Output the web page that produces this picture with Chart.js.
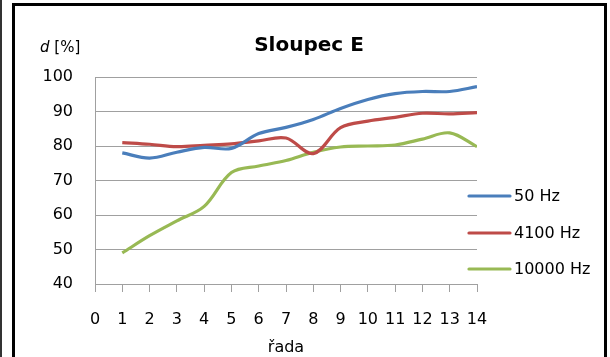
<!DOCTYPE html>
<html><head><meta charset="utf-8">
<script src="https://cdn.jsdelivr.net/npm/chart.js@4"></script>
<style>
html,body{margin:0;padding:0;background:#fff;}
#wrap{position:relative;width:610px;height:357px;}
#frame{position:absolute;left:12px;top:3px;width:589px;height:360px;border:3px solid #000;border-bottom:none;}
#edge{position:absolute;left:0;top:0;width:2px;height:357px;background:#333;}
canvas{position:absolute;left:0;top:0;}
</style></head>
<body><div id="wrap"><div id="edge"></div><div id="frame"></div><canvas id="c" width="610" height="357"></canvas></div>
<script>
const rows = [1,2,3,4,5,6,7,8,9,10,11,12,13,14];
const seriesNames = ['50 Hz','4100 Hz','10000 Hz'];
const hz50 = [78,76.5,78.2,79.6,79.3,83.6,85.4,87.7,90.9,93.5,95.2,95.8,95.8,97.2];
const hz4100 = [81,80.5,79.8,80.2,80.6,81.5,82.3,77.8,85.3,87.2,88.3,89.5,89.3,89.7];
const hz10000 = [49,54,58.3,62.5,72.3,74.2,75.8,78.2,79.7,80,80.3,82,83.8,79.8];
const xTicks = [0,1,2,3,4,5,6,7,8,9,10,11,12,13,14];
const yTicks = [40,50,60,70,80,90,100];
const colors = ['#4a7ebb','#be4b48','#98b954'];
const FONT = '"DejaVu Sans", sans-serif';

const allSeries = [hz50, hz4100, hz10000];
const datasets = allSeries.map((vals,i)=>({
  label: seriesNames[i],
  data: rows.map((r,j)=>({x:r,y:vals[j]})),
  borderColor: colors[i],
  backgroundColor: colors[i],
  borderWidth: 3.2,
  pointRadius: 0,
  tension: 0.35,
  fill:false
}));

const extras = {
  id:'extras',
  afterDraw(chart){
    const ctx = chart.ctx;
    ctx.save();
    ctx.fillStyle = '#000';
    ctx.textBaseline = 'middle';
    ctx.textAlign = 'center';
    ctx.font = 'bold 20px ' + FONT;
    ctx.fillText('Sloupec E', 309, 46);
    ctx.textAlign = 'left';
    ctx.font = 'italic 15px ' + FONT;
    ctx.fillText('d', 40, 48);
    const w = ctx.measureText('d ').width;
    ctx.font = '15px ' + FONT;
    ctx.fillText('[%]', 40 + w, 48);
    // legend
    const ly = [196, 233, 269];
    chart.data.datasets.forEach((ds,i)=>{
      ctx.strokeStyle = ds.borderColor;
      ctx.lineWidth = 3.2;
      ctx.lineCap = 'round';
      ctx.beginPath();
      ctx.moveTo(469, ly[i]); ctx.lineTo(510, ly[i]); ctx.stroke();
      ctx.fillStyle = '#000';
      ctx.font = '16px ' + FONT;
      ctx.fillText(ds.label, 514, ly[i]+1);
    });
    ctx.restore();
  }
};

new Chart(document.getElementById('c'), {
  type:'line',
  data:{datasets},
  plugins:[extras],
  options:{
    responsive:false,
    animation:false,
    layout:{padding:{left:0,right:133,top:77,bottom:0}},
    plugins:{legend:{display:false},title:{display:false},tooltip:{enabled:false}},
    scales:{
      x:{
        type:'linear', min:0, max:14,
        afterBuildTicks(s){ s.ticks = xTicks.map(v=>({value:v})); },
        afterFit(s){ s.height = 73; },
        grid:{display:true, drawOnChartArea:false, drawTicks:true, tickLength:8, color:'#a0a0a0', lineWidth:1},
        border:{display:true,color:'#a0a0a0',width:1},
        ticks:{color:'#000',font:{family:FONT,size:16},padding:18, maxRotation:0, autoSkip:false},
        title:{display:true,text:'řada',color:'#000',font:{family:FONT,size:16},padding:{top:2,bottom:0}}
      },
      y:{
        min:40,max:100,
        afterBuildTicks(s){ s.ticks = yTicks.map(v=>({value:v})); },
        afterFit(s){ s.width = 95; },
        grid:{color:'#a0a0a0',lineWidth:1,drawTicks:false},
        border:{display:true,color:'#a0a0a0',width:1},
        ticks:{color:'#000',font:{family:FONT,size:16},padding:22}
      }
    }
  }
});
</script>
</body></html>
